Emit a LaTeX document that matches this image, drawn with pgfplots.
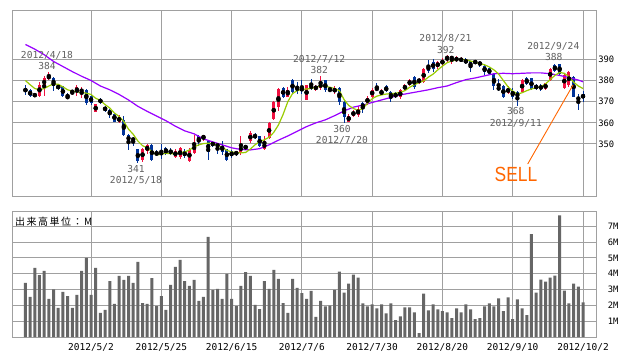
\documentclass[border=0pt]{standalone}
\usepackage{pgfplots}
\pgfplotsset{compat=1.18}
\usepackage{pgfplotstable}
\usepackage{graphicx}
\usepackage{fontspec}
\setmainfont{DejaVu Sans}
\newfontfamily\monof{DejaVu Sans Mono}
\newfontfamily\jpf[LetterSpace=15]{Noto Sans CJK JP}
\newfontfamily\sellf{Liberation Sans}
\definecolor{upred}{HTML}{F01040}
\definecolor{downblue}{HTML}{003399}
\definecolor{magreen}{HTML}{99CC00}
\definecolor{mapurple}{HTML}{9900FF}
\definecolor{gridgray}{HTML}{A0A0A0}
\definecolor{volgray}{HTML}{666666}
\definecolor{annogray}{HTML}{606060}
\definecolor{sellorange}{HTML}{FF6600}

\pgfplotstableread{
x o h l c
3 372.8 379.5 372.0 378.0
4 377.2 382.0 372.6 381.3
5 380.8 384.0 380.2 382.3
10 374.2 375.5 373.0 375.2
11 374.6 377.8 372.5 376.8
12 374.4 376.8 371.6 376.0
15 365.0 369.0 364.9 368.8
20 360.6 363.5 359.8 362.6
25 342.6 348.2 341.6 347.4
26 346.6 350.2 345.4 349.6
32 344.0 347.4 343.4 346.8
33 344.0 348.4 343.0 348.0
35 341.9 348.0 341.6 347.3
36 345.8 354.4 345.4 350.5
38 352.4 354.4 351.6 354.2
46 345.6 354.0 344.8 349.8
47 347.8 349.6 347.2 349.4
48 351.2 356.0 350.6 355.2
51 347.6 354.0 347.0 350.8
52 353.0 360.5 352.4 359.8
53 362.0 370.4 361.4 370.0
54 367.3 376.4 365.4 375.9
56 372.4 377.0 372.0 375.5
60 371.0 378.0 370.6 377.8
62 375.6 378.0 375.0 377.6
63 376.6 382.0 375.6 378.6
66 374.4 377.2 373.6 376.4
69 360.4 364.0 360.2 363.4
70 363.4 366.2 362.8 365.2
71 363.6 367.8 362.8 366.4
73 369.4 372.6 368.6 371.6
74 372.4 376.6 371.8 375.6
76 373.4 376.0 373.0 375.0
80 372.0 375.8 371.4 375.6
81 375.8 378.4 375.0 377.9
82 378.0 380.6 377.2 380.2
84 379.4 381.0 378.4 380.6
85 379.4 385.8 379.0 385.6
88 386.4 389.4 385.4 388.6
89 387.8 390.6 387.0 389.4
90 389.6 392.0 388.6 391.8
91 390.0 391.6 388.0 391.4
92 389.0 391.4 388.8 391.0
93 389.2 391.0 388.6 390.4
103 374.0 377.2 373.4 376.6
106 374.6 380.6 374.0 380.1
111 376.0 378.8 375.6 378.6
112 380.2 386.0 379.8 385.6
115 376.6 383.2 376.2 382.8
116 377.8 384.6 377.0 384.0
}\uptable

\pgfplotstableread{
x o h l c
0 376.2 377.8 373.2 374.6
1 375.3 376.0 372.0 372.8
2 373.4 374.2 372.0 372.7
6 381.4 381.6 375.2 377.2
7 378.0 378.3 375.5 375.8
8 377.2 377.5 372.0 372.6
9 372.8 374.2 371.2 371.4
13 375.7 376.0 368.4 369.6
14 372.8 373.2 368.6 369.2
16 371.0 371.5 369.1 369.8
17 367.5 368.0 365.1 365.8
18 366.2 366.6 362.5 363.6
19 364.4 364.8 360.3 360.6
21 361.2 363.0 353.8 354.2
22 354.4 354.6 347.2 351.0
23 352.8 353.2 349.0 351.6
24 347.4 347.8 341.0 342.0
27 349.6 349.8 341.8 342.4
28 346.0 347.2 344.2 344.8
29 346.0 349.8 342.8 345.2
30 348.2 348.6 344.6 345.6
31 347.2 348.0 344.8 345.4
34 346.6 347.4 343.2 344.2
37 353.6 354.3 349.0 350.9
39 351.6 351.9 342.6 346.2
40 351.0 351.4 348.6 349.0
41 350.0 350.2 345.4 348.8
42 349.2 351.6 344.8 346.4
43 347.4 347.6 342.2 342.6
44 346.6 347.0 343.4 344.2
45 346.4 346.8 344.4 345.0
49 354.4 355.4 352.2 352.8
50 353.6 353.8 348.8 349.0
55 376.4 377.0 371.8 372.3
57 380.0 380.5 374.0 374.8
58 377.0 379.4 373.8 375.2
59 376.8 380.0 373.6 374.8
61 377.8 380.8 375.4 376.2
64 380.0 380.2 374.6 375.4
65 376.4 376.6 374.4 375.4
67 376.6 376.8 368.4 370.0
68 370.0 370.2 360.0 362.8
72 369.6 370.0 364.6 366.6
75 376.4 378.6 374.8 375.6
77 377.2 377.8 374.4 374.8
78 374.8 375.0 369.8 371.4
79 374.0 374.6 371.6 372.0
83 381.6 382.0 376.2 377.0
86 387.2 389.6 383.6 384.4
87 388.6 390.0 384.0 385.6
94 390.0 390.4 387.6 388.2
95 389.2 389.4 384.2 386.0
96 389.0 389.6 387.8 388.4
97 388.8 389.4 386.6 387.2
98 387.0 387.4 382.8 383.8
99 385.8 386.2 382.4 383.2
100 383.2 383.6 375.4 377.2
101 376.8 380.6 375.0 375.6
102 377.4 377.8 371.6 372.2
104 375.0 376.6 371.4 372.2
105 374.6 375.2 368.0 371.8
107 381.0 381.8 377.8 378.2
108 381.0 381.4 375.4 376.0
109 377.8 378.2 375.6 376.2
110 377.6 378.2 375.2 375.8
113 387.4 388.0 383.8 384.4
114 388.0 387.8 382.4 383.2
117 381.6 382.0 372.0 372.4
118 371.8 373.8 366.0 371.2
119 373.4 375.0 370.0 371.8
}\downtable

\pgfplotstableread{
x v
0 3.42
1 2.53
2 4.37
3 3.92
4 4.18
5 2.41
6 3.02
7 1.84
8 2.85
9 2.59
10 1.84
11 2.66
12 4.18
13 5.00
14 2.66
15 4.37
16 1.52
17 1.71
18 3.54
19 2.09
20 3.86
21 3.61
22 3.86
23 3.42
24 4.75
25 2.15
26 2.09
27 3.73
28 1.96
29 2.59
30 1.71
31 3.29
32 4.43
33 4.87
34 3.54
35 3.23
36 3.61
37 2.28
38 2.53
39 6.33
40 2.97
41 3.04
42 2.41
43 3.99
44 2.41
45 1.96
46 3.23
47 4.11
48 3.86
49 2.03
50 1.77
51 3.54
52 3.04
53 4.24
54 3.67
55 2.15
56 1.52
57 3.67
58 3.10
59 2.78
60 2.41
61 2.91
62 1.27
63 2.28
64 1.94
65 1.98
66 2.98
67 4.13
68 2.81
69 3.38
70 3.94
71 3.75
72 2.13
73 1.94
74 2.06
75 1.81
76 2.06
77 1.50
78 2.13
79 1.06
80 1.31
81 1.88
82 1.88
83 1.56
84 0.25
85 2.75
86 1.69
87 2.06
88 1.75
89 1.63
90 1.56
91 1.19
92 1.81
93 1.56
94 2.06
95 1.75
96 1.13
97 1.19
98 1.94
99 2.13
100 1.94
101 2.44
102 1.63
103 2.50
104 1.13
105 2.38
106 1.81
107 1.38
108 6.50
109 2.81
110 3.63
111 3.50
112 3.75
113 3.88
114 7.70
115 2.94
116 2.13
117 3.38
118 3.19
119 2.19
}\voltable

\pgfplotsset{
  wickstyle/.style={only marks, mark=none, forget plot,
    error bars/.cd, y dir=both, y explicit, error mark=none,
    error bar style={draw=#1, line width=1pt}},
  bodystyle/.style={only marks, mark=none, forget plot,
    error bars/.cd, y dir=both, y explicit, error mark=none,
    error bar style={draw=#1, line width=3pt}},
}

\begin{document}
\begin{tikzpicture}[x=1pt,y=1pt]
\path[use as bounding box, fill=white] (0,0) rectangle (638,362);

% ---------- price panel ----------
\begin{axis}[
  at={(12.3pt,165.3pt)}, anchor=south west,
  scale only axis, width=584.4pt, height=186.7pt,
  xmin=-2.8, xmax=121.92, ymin=325.1, ymax=413.3,
  xtick={14,29,44,59,74,89,104,119}, xticklabels={},
  ytick={350,360,370,380,390}, yticklabels={350,360,370,380,390},
  yticklabel pos=right,
  major tick length=0pt,
  grid=major,
  major grid style={draw=gridgray, line width=1pt},
  axis line style={draw=gridgray, line width=1pt},
  y tick label style={font=\monof\fontsize{8.8}{10}\selectfont, anchor=west, inner sep=0pt, xshift=1.5pt},
]
\addplot[wickstyle=downblue] table[x=x, y expr={(\thisrow{h}+\thisrow{l})/2}, y error expr={(\thisrow{h}-\thisrow{l})/2}] \downtable;
\addplot[wickstyle=upred] table[x=x, y expr={(\thisrow{h}+\thisrow{l})/2}, y error expr={(\thisrow{h}-\thisrow{l})/2}] \uptable;
\addplot[bodystyle=downblue] table[x=x, y expr={(\thisrow{o}+\thisrow{c})/2}, y error expr={abs(\thisrow{o}-\thisrow{c})/2}] \downtable;
\addplot[bodystyle=upred] table[x=x, y expr={(\thisrow{o}+\thisrow{c})/2}, y error expr={abs(\thisrow{o}-\thisrow{c})/2}] \uptable;

\addplot[mapurple, line width=1.2pt, mark=none] coordinates {
(0,397.0)(2,394.8)(4,392.2)(6,389.0)(8,386.6)(10,384.2)(12,382.0)(14,380.0)(16,377.4)(18,375.6)(20,373.4)(22,370.8)(24,367.8)(26,365.4)(28,363.2)(30,361.0)(32,358.4)(34,356.2)(36,354.8)(38,352.4)(40,351.0)(42,349.6)(44,348.2)(46,347.4)(48,347.2)(50,347.8)(52,349.6)(54,351.8)(56,353.8)(58,356.0)(60,358.2)(62,360.0)(64,361.4)(66,363.4)(68,365.6)(70,367.4)(72,368.4)(74,369.6)(76,370.8)(78,372.0)(80,373.2)(82,374.0)(84,374.8)(86,375.6)(88,376.6)(90,377.4)(92,379.0)(94,380.4)(96,381.2)(98,382.2)(100,383.2)(102,383.4)(104,383.2)(106,383.4)(108,383.6)(110,383.6)(112,383.2)(114,382.4)(116,381.4)(118,380.2)(119,379.4)};

\addplot[magreen, line width=1.2pt, mark=none] coordinates {
(0,380.0)(1,378.0)(2,376.2)(3,375.6)(4,376.2)(5,377.4)(6,378.4)(7,378.2)(8,377.0)(9,375.6)(10,375.0)(11,374.6)(12,374.4)(13,374.0)(14,373.4)(15,371.6)(16,370.6)(17,368.6)(18,367.0)(19,364.6)(20,363.0)(21,360.6)(22,357.0)(23,354.6)(24,351.4)(25,349.2)(26,348.2)(27,346.4)(28,344.8)(29,345.2)(30,345.6)(31,345.4)(32,345.4)(33,346.0)(34,346.2)(35,347.2)(36,348.6)(37,349.6)(38,350.2)(39,350.4)(40,350.2)(41,349.4)(42,348.4)(43,347.0)(44,346.2)(45,346.0)(46,345.8)(47,346.0)(48,347.6)(49,349.6)(50,351.2)(51,352.0)(52,353.2)(53,355.5)(54,359.0)(55,364.0)(56,370.0)(57,373.8)(58,375.2)(59,375.8)(60,376.0)(61,376.2)(62,376.8)(63,377.4)(64,377.2)(65,376.8)(66,376.2)(67,375.2)(68,371.0)(69,368.2)(70,366.8)(71,365.8)(72,366.8)(73,369.2)(74,371.4)(75,372.6)(76,373.2)(77,373.6)(78,373.8)(79,374.0)(80,374.4)(81,375.2)(82,376.8)(83,378.0)(84,379.0)(85,379.8)(86,381.6)(87,383.0)(88,385.0)(89,386.8)(90,388.4)(91,389.2)(92,389.8)(93,390.0)(94,389.8)(95,389.2)(96,388.6)(97,388.0)(98,387.4)(99,386.4)(100,385.0)(101,383.0)(102,380.0)(103,377.0)(104,375.0)(105,373.6)(106,374.2)(107,375.2)(108,376.0)(109,376.6)(110,377.0)(111,378.4)(112,380.4)(113,382.4)(114,383.8)(115,383.4)(116,381.8)(117,379.2)(118,377.4)(119,376.2)};
\end{axis}

% ---------- volume panel ----------
\begin{axis}[
  at={(12.3pt,25pt)}, anchor=south west,
  scale only axis, width=584.4pt, height=125pt,
  xmin=-2.8, xmax=121.92, ymin=0, ymax=7.906,
  xtick={14,29,44,59,74,89,104,119},
  xticklabels={2012/5/2,2012/5/25,2012/6/15,2012/7/6,2012/7/30,2012/8/20,2012/9/10,2012/10/2},
  ytick={1,2,3,4,5,6,7}, yticklabels={1M,2M,3M,4M,5M,6M,7M},
  yticklabel pos=right,
  major tick length=0pt,
  grid=major,
  major grid style={draw=gridgray, line width=1pt},
  axis line style={draw=gridgray, line width=1pt},
  x tick label style={font=\monof\fontsize{9.5}{10}\selectfont, anchor=base, inner sep=0pt, yshift=-13pt},
  y tick label style={font=\monof\fontsize{8.8}{10}\selectfont, anchor=west, inner sep=0pt, xshift=11pt},
]
\addplot[ybar, bar width=3pt, fill=volgray, draw=none] table[x=x, y=v] \voltable;
\end{axis}

% ---------- annotations ----------
\begin{scope}[every node/.style={font=\monof\fontsize{9.6}{11}\selectfont, text=annogray, inner sep=0pt}]
\node at (47,306.5) {2012/4/18};
\node at (47,295.5) {384};
\node at (136,193) {341};
\node at (136,181.5) {2012/5/18};
\node at (319.2,302.3) {2012/7/12};
\node at (319.2,291.7) {382};
\node at (342,232.8) {360};
\node at (342,221.7) {2012/7/20};
\node at (445.5,323.2) {2012/8/21};
\node at (445.7,312.3) {392};
\node at (515.7,250.8) {368};
\node at (515.8,238.7) {2012/9/11};
\node at (553.3,315.7) {2012/9/24};
\node at (553.7,305) {388};
\end{scope}

\draw[sellorange, line width=0.9pt] (527.7,198) -- (573,277);
\node[text=sellorange, inner sep=0pt] at (516,187.5) {\scalebox{0.85}[1]{\sellf\fontsize{20.5}{22}\selectfont SELL}};

\node[anchor=west, inner sep=0pt] at (15,140.3) {\jpf\fontsize{10}{12}\selectfont 出来高単位：M};
\end{tikzpicture}
\end{document}
